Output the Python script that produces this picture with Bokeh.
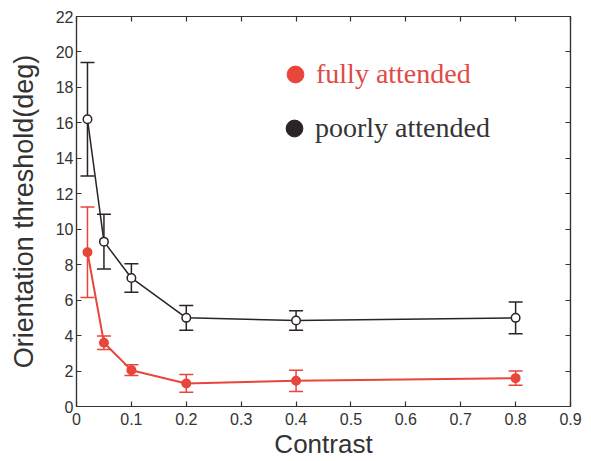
from bokeh.plotting import figure
from bokeh.models import (Range1d, LinearAxis, FixedTicker, Whisker, TeeHead,
                          ColumnDataSource, Legend, LegendItem, CustomLabelingPolicy)
from bokeh.embed import file_html
from bokeh.resources import INLINE

# ---- data ----
contrast = [0.02, 0.05, 0.1, 0.2, 0.4, 0.8]
full_mean = [8.7, 3.6, 2.05, 1.3, 1.45, 1.6]
full_err = [2.55, 0.38, 0.3, 0.5, 0.6, 0.4]
poor_mean = [16.2, 9.3, 7.25, 5.0, 4.85, 5.0]
poor_err = [3.2, 1.55, 0.8, 0.7, 0.55, 0.9]

x_ticks = [0, 0.1, 0.2, 0.3, 0.4, 0.5, 0.6, 0.7, 0.8, 0.9]
x_tick_labels = ["0", "0.1", "0.2", "0.3", "0.4", "0.5", "0.6", "0.7", "0.8", "0.9"]
y_ticks = [0, 2, 4, 6, 8, 10, 12, 14, 16, 18, 20, 22]
y_tick_labels = [str(v) for v in y_ticks]

series_names = ["fully attended", "poorly attended"]

RED = "#e8453b"
RED_TXT = "#e04a47"
BLACK = "#2b2326"
BLACK_TXT = "#353335"
AXIS = "#333333"
SANS = "Liberation Sans"
SERIF = "Liberation Serif"

p = figure(width=591, height=461, x_range=Range1d(0, 0.9), y_range=Range1d(0, 22),
           output_backend="svg", toolbar_location=None,
           min_border_left=76, min_border_right=17, min_border_top=16, min_border_bottom=54,
           background_fill_color="white", border_fill_color="white",
           x_axis_label="Contrast", y_axis_label="Orientation threshold(deg)")
p.grid.visible = False
p.outline_line_color = AXIS
p.outline_line_width = 1.2

def style_axis(ax, ticks, labels, show_labels=True):
    ax.ticker = FixedTicker(ticks=ticks)
    ax.major_tick_in = 5
    ax.major_tick_out = 0
    ax.minor_tick_in = 0
    ax.minor_tick_out = 0
    ax.axis_line_color = AXIS
    ax.axis_line_width = 1.2
    ax.major_tick_line_color = AXIS
    ax.major_tick_line_width = 1.2
    ax.major_label_text_font = SANS
    ax.major_label_text_color = AXIS
    ax.major_label_text_font_size = "16px"
    ax.axis_label_text_font = SANS
    ax.axis_label_text_font_style = "normal"
    ax.axis_label_text_color = AXIS
    if show_labels:
        ax.major_label_overrides = {t: l for t, l in zip(ticks, labels)}
    else:
        ax.major_label_policy = CustomLabelingPolicy(code="return []")
        ax.major_label_standoff = 0

xa = p.xaxis[0]
ya = p.yaxis[0]
style_axis(xa, x_ticks, x_tick_labels)
style_axis(ya, y_ticks, y_tick_labels)
xa.major_label_standoff = 6
xa.axis_label_text_font_size = "26px"
xa.axis_label_standoff = 1
ya.major_label_standoff = 3
ya.axis_label_text_font_size = "27px"
ya.axis_label_standoff = 14

top = LinearAxis()
style_axis(top, x_ticks, x_tick_labels, show_labels=False)
p.add_layout(top, "above")
right = LinearAxis()
style_axis(right, y_ticks, y_tick_labels, show_labels=False)
p.add_layout(right, "right")

legend_renderers = []

def add_series(mean, err, color, filled):
    src = ColumnDataSource(dict(
        x=contrast, y=mean,
        lower=[m - e for m, e in zip(mean, err)],
        upper=[m + e for m, e in zip(mean, err)]))
    w = Whisker(base="x", upper="upper", lower="lower", source=src,
                line_color=color, line_width=1.5,
                upper_head=TeeHead(size=14, line_color=color, line_width=1.5),
                lower_head=TeeHead(size=14, line_color=color, line_width=1.5))
    p.add_layout(w)
    lw = 2.0 if color == RED else 1.5
    p.line("x", "y", source=src, line_color=color, line_width=lw)
    p.scatter("x", "y", source=src, size=8.5, line_color=color, line_width=1.5,
              fill_color=color if filled else "white")
    # legend-only glyph (hidden in the plot, drawn in the legend)
    lr = p.scatter("x", "y", source=src, size=17, fill_color=color, line_color=color,
                   visible=False)
    legend_renderers.append(lr)

add_series(full_mean, full_err, RED, True)
add_series(poor_mean, poor_err, BLACK, False)

def make_legend(r, label, txt_color, loc):
    lg = Legend(items=[LegendItem(label=label, renderers=[r])], location=loc,
                glyph_width=42, glyph_height=42, label_standoff=-3,
                padding=0, margin=0, border_line_alpha=0, background_fill_alpha=0,
                label_text_font=SERIF, label_text_font_size="28px",
                label_text_color=txt_color)
    p.add_layout(lg)

make_legend(legend_renderers[0], series_names[0], RED_TXT, (198, 311))
make_legend(legend_renderers[1], series_names[1], BLACK_TXT, (197, 257))

open("out.html", "w").write(file_html(p, INLINE))
